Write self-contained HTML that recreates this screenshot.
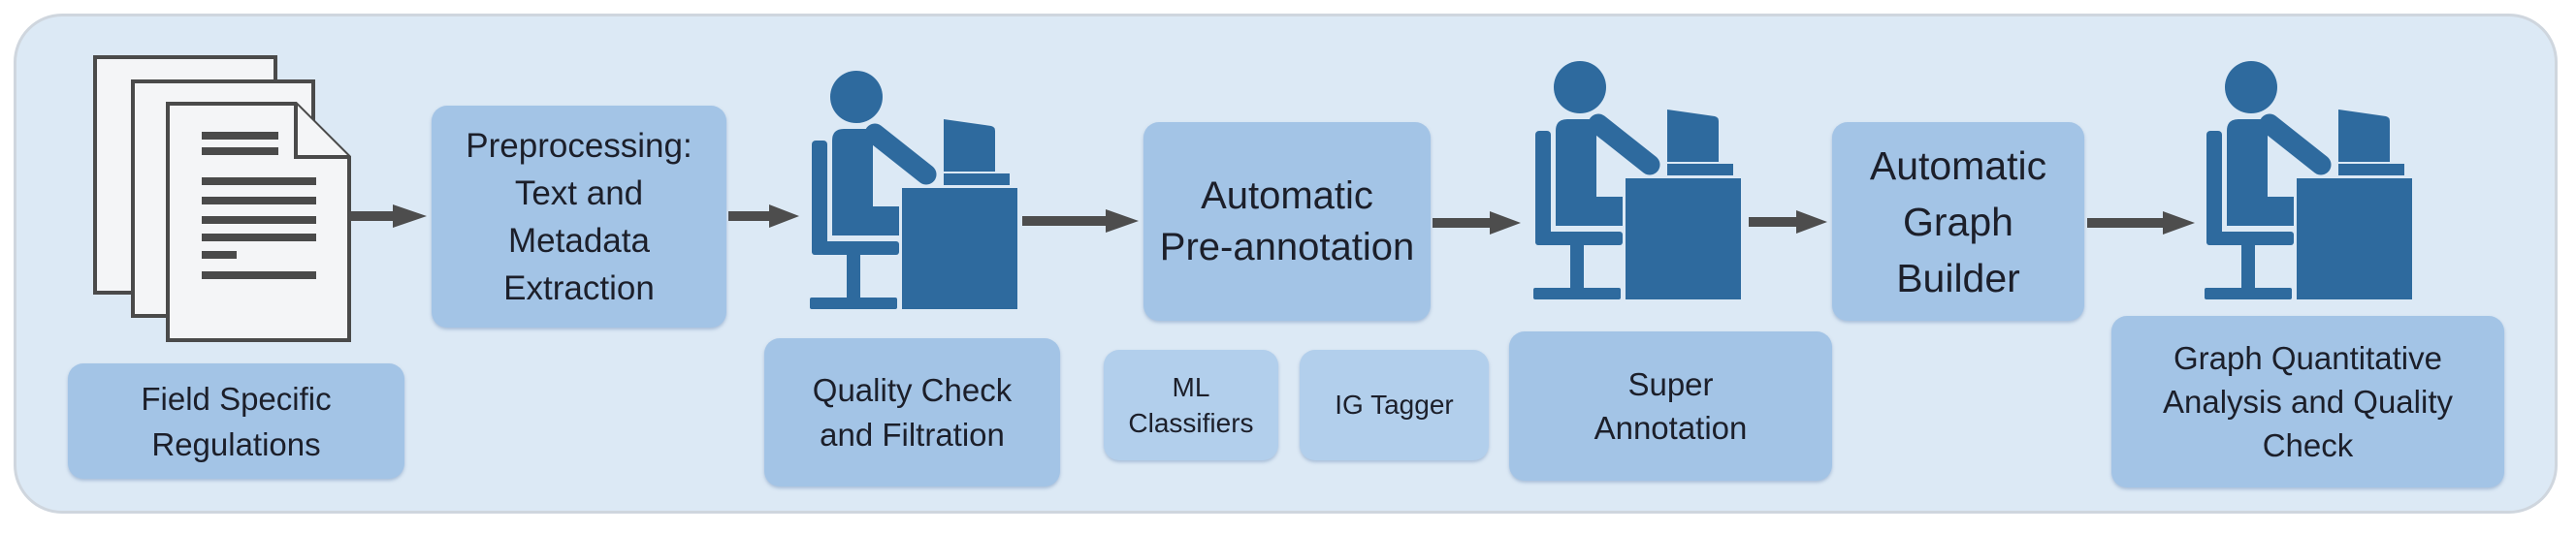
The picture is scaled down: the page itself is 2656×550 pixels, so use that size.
<!DOCTYPE html>
<html><head><meta charset="utf-8"><style>
body{margin:0;width:2656px;height:550px;background:#fff;overflow:hidden;font-family:"Liberation Sans",sans-serif;}
.panel{position:absolute;left:14px;top:14px;width:2623px;height:516px;background:#dce9f5;border:3px solid #cfd6de;border-radius:50px;box-sizing:border-box;}
.box{position:absolute;background:#a3c4e6;border-radius:16px;display:flex;align-items:center;justify-content:center;text-align:center;color:#1c1f2a;box-shadow:0 2px 3px rgba(120,150,190,.5);}
.lt{background:#b2cfec;}
svg{position:absolute;left:0;top:0;}
</style></head><body>
<div class="panel"></div>
<svg width="2656" height="550">
<defs>
<g id="p" fill="#2e6a9e">
<circle cx="883" cy="100" r="27"/>
<path d="M858,145 Q858,133 870,133 L900,133 L900,213 L927,213 L927,243 L858,243 Z"/>
<line x1="902" y1="138" x2="955" y2="180" stroke="#2e6a9e" stroke-width="21" stroke-linecap="round"/>
<rect x="837" y="145" width="16" height="118" rx="4"/>
<rect x="837" y="249" width="90" height="14" rx="3"/>
<rect x="873" y="263" width="14" height="44"/>
<rect x="835" y="307" width="90" height="12" rx="2"/>
<rect x="930" y="194" width="119" height="125"/>
<path d="M973,123 L1022,130 Q1026,131 1026,135 L1026,177 L973,177 Z"/>
<rect x="973" y="179" width="68" height="12"/>
</g>
</defs>
<g fill="#f4f5f7" stroke="#4a4a4a" stroke-width="4">
<rect x="98" y="59" width="186" height="243"/>
<rect x="137" y="84" width="186" height="242"/>
<path d="M173,107 L305,107 L360,162 L360,351 L173,351 Z"/>
<path d="M305,107 L305,162 L360,162" fill="#f4f5f7"/>
</g>
<g fill="#4a4a4a">
<rect x="208" y="136" width="79" height="8"/>
<rect x="208" y="152" width="79" height="8"/>
<rect x="208" y="183" width="118" height="8"/>
<rect x="208" y="203" width="118" height="8"/>
<rect x="208" y="223" width="118" height="8"/>
<rect x="208" y="241" width="118" height="8"/>
<rect x="208" y="259" width="36" height="8"/>
<rect x="208" y="280" width="118" height="8"/>
</g>
<g fill="#4d4d4d">
<rect x="360" y="218" width="48" height="10"/><polygon points="405,211 440,223 405,235"/>
<rect x="751" y="218" width="45" height="10"/><polygon points="793,211 824,223 793,235"/>
<rect x="1054" y="223" width="90" height="10"/><polygon points="1140,216 1174,228 1140,240"/>
<rect x="1477" y="225" width="62" height="10"/><polygon points="1536,218 1568,230 1536,242"/>
<rect x="1803" y="224" width="52" height="10"/><polygon points="1852,217 1884,229 1852,241"/>
<rect x="2152" y="225" width="82" height="10"/><polygon points="2230,218 2263,230 2230,242"/>
</g>
<use href="#p"/>
<use href="#p" transform="translate(746,-10)"/>
<use href="#p" transform="translate(1438,-10)"/>
</svg>
<div class="box" style="left:70px;top:375px;width:347px;height:119px;font-size:33px;line-height:47px;">Field Specific<br>Regulations</div>
<div class="box" style="left:445px;top:109px;width:304px;height:229px;font-size:35px;line-height:49px;">Preprocessing:<br>Text and<br>Metadata<br>Extraction</div>
<div class="box" style="left:788px;top:349px;width:305px;height:153px;font-size:33px;line-height:46px;">Quality Check<br>and Filtration</div>
<div class="box" style="left:1179px;top:126px;width:296px;height:205px;font-size:40px;line-height:53px;">Automatic<br>Pre-annotation</div>
<div class="box lt" style="left:1138px;top:361px;width:180px;height:114px;font-size:28px;line-height:37px;">ML<br>Classifiers</div>
<div class="box lt" style="left:1340px;top:361px;width:195px;height:114px;font-size:28px;">IG Tagger</div>
<div class="box" style="left:1556px;top:342px;width:333px;height:154px;font-size:33px;line-height:45px;">Super<br>Annotation</div>
<div class="box" style="left:1889px;top:126px;width:260px;height:205px;font-size:41px;line-height:58px;">Automatic<br>Graph<br>Builder</div>
<div class="box" style="left:2177px;top:326px;width:405px;height:177px;font-size:33px;line-height:45px;">Graph Quantitative<br>Analysis and Quality<br>Check</div>
</body></html>
